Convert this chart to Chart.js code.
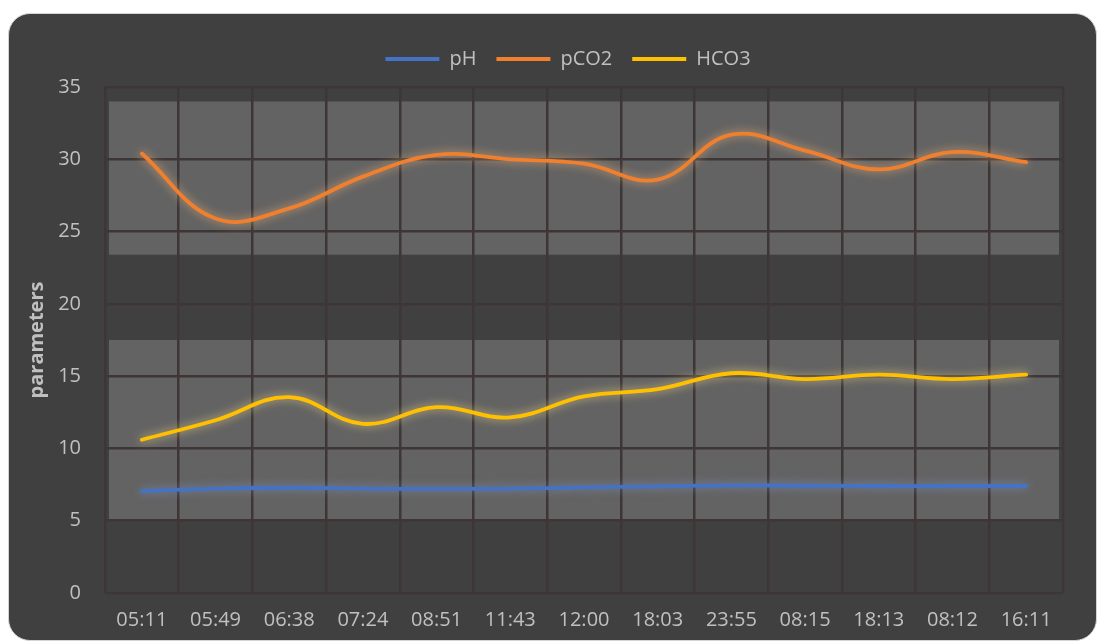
<!DOCTYPE html>
<html>
<head>
<meta charset="utf-8">
<script src="https://cdn.jsdelivr.net/npm/chart.js@4.4.0/dist/chart.umd.min.js"></script>
<style>
  html, body { margin: 0; background: #fff; }
  #frame {
    position: absolute; left: 8px; top: 13px;
    width: 1087px; height: 626px;
    background: #404040; border: 1px solid #d4d4d4; border-radius: 22px;
    overflow: hidden;
  }
  #chartBox { position: absolute; left: 0; top: 0; width: 1087px; height: 626px; }
</style>
</head>
<body>
<div id="frame"><div id="chartBox"><canvas id="bloodGas"></canvas></div></div>
<script>
const times = ['05:11', '05:49', '06:38', '07:24', '08:51', '11:43', '12:00', '18:03', '23:55', '08:15', '18:13', '08:12', '16:11'];
const phValues = [7.05, 7.22, 7.28, 7.22, 7.2, 7.22, 7.3, 7.38, 7.45, 7.42, 7.4, 7.4, 7.4];
const pco2Values = [30.4, 25.9, 26.6, 28.8, 30.3, 30.0, 29.7, 28.6, 31.7, 30.6, 29.3, 30.5, 29.8];
const hco3Values = [10.6, 11.95, 13.55, 11.7, 12.85, 12.15, 13.6, 14.1, 15.2, 14.8, 15.1, 14.8, 15.1];
const yTicks = [0, 5, 10, 15, 20, 25, 30, 35];

const textColor = '#c0c0c0';
const gridColor = '#3e3636';
const fontFamily = "'Open Sans', 'Noto Sans', sans-serif";

// lighter panels behind the two groups of curves
const panels = [[23.4, 34], [5.1, 17.5]];
const panelBands = {
  id: 'panelBands',
  beforeDraw(chart) {
    const { ctx, chartArea, scales } = chart;
    ctx.save();
    ctx.fillStyle = '#636363';
    panels.forEach(([lo, hi]) => {
      const top = scales.y.getPixelForValue(hi);
      const bottom = scales.y.getPixelForValue(lo);
      ctx.fillRect(chartArea.left + 4, top, chartArea.right - chartArea.left - 8, bottom - top);
    });
    ctx.restore();
  }
};

// nudge the legend a little right and up
const legendNudge = {
  id: 'legendNudge',
  afterLayout(chart) {
    const lg = chart.legend;
    if (!lg) return;
    lg.left += 32; lg.right += 32;
    lg.top -= 8; lg.bottom -= 8;
  }
};

// soft glow around each line
const glowColors = ['rgba(140,165,225,0.55)', 'rgba(255,185,120,0.75)', 'rgba(255,225,140,0.75)'];
const lineGlow = {
  id: 'lineGlow',
  beforeDatasetDraw(chart, args) {
    const ctx = chart.ctx;
    ctx.save();
    ctx.shadowColor = glowColors[args.index];
    ctx.shadowBlur = 10;
  },
  afterDatasetDraw(chart) {
    chart.ctx.restore();
  }
};

function series(label, data, color) {
  return {
    label: label,
    data: data,
    borderColor: color,
    backgroundColor: color,
    borderWidth: 3.8,
    borderCapStyle: 'round',
    pointRadius: 0,
    pointHoverRadius: 0,
    tension: 0.4,
    fill: false
  };
}

new Chart(document.getElementById('bloodGas').getContext('2d'), {
  type: 'line',
  data: {
    labels: times,
    datasets: [
      series('pH', phValues, '#4472c4'),
      series('pCO2', pco2Values, '#f07f2e'),
      series('HCO3', hco3Values, '#ffc000')
    ]
  },
  options: {
    responsive: true,
    maintainAspectRatio: false,
    animation: false,
    layout: { padding: { left: 0, right: 33, top: 23, bottom: 0 } },
    plugins: {
      tooltip: { enabled: false },
      legend: {
        position: 'top',
        labels: {
          color: textColor,
          font: { family: fontFamily, size: 20 },
          usePointStyle: true,
          pointStyle: 'line',
          pointStyleWidth: 54,
          padding: 20
        }
      }
    },
    scales: {
      x: {
        offset: true,
        grid: { offset: true, color: gridColor, lineWidth: 2.5, drawTicks: false },
        border: { display: false },
        ticks: { color: textColor, font: { family: fontFamily, size: 20 }, padding: 15, maxRotation: 0 },
        afterFit: (s) => { s.height = 47; }
      },
      y: {
        min: 0,
        max: 35,
        afterBuildTicks: (s) => { s.ticks = yTicks.map(v => ({ value: v })); },
        grid: { color: gridColor, lineWidth: 2.5, drawTicks: false },
        border: { display: false },
        ticks: { color: textColor, font: { family: fontFamily, size: 20 }, padding: 24 },
        title: {
          display: true,
          text: 'parameters',
          color: textColor,
          font: { family: fontFamily, size: 20, weight: 'bold' },
          padding: { top: 16, bottom: 0 }
        },
        afterFit: (s) => { s.width = 96; }
      }
    }
  },
  plugins: [panelBands, legendNudge, lineGlow]
});
</script>
</body>
</html>
